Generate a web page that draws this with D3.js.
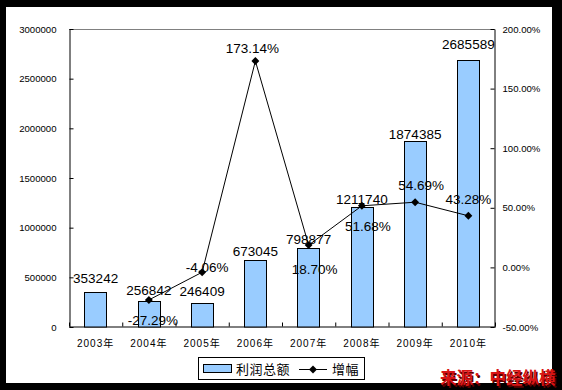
<!DOCTYPE html>
<html>
<head>
<meta charset="UTF-8">
<script src="https://d3js.org/d3.v7.min.js"></script>
<style>
  body { margin: 0; background: #000; }
  svg { display: block; }
</style>
</head>
<body>
<svg id="chart" width="562" height="390"></svg>
<script>
  // Data
  const years = [ "2003年", "2004年", "2005年", "2006年", "2007年", "2008年", "2009年", "2010年" ];
  const profit = [ 353242, 256842, 246409, 673045, 798877, 1211740, 1874385, 2685589 ];
  const growth = [ null, -27.29, -4.06, 173.14, 18.70, 51.68, 54.69, 43.28 ];
  const leftTicks = [ 0, 500000, 1000000, 1500000, 2000000, 2500000, 3000000 ];
  const rightTicks = [ -50, 0, 50, 100, 150, 200 ];

  // label nudges (layout only)
  const barLabelDy = [ -9, -6, -7, -4, -4, -3, -2, -11 ];
  const pctLabelDx = [ 0, 4, 5, -3, 6, 6, 6, 0 ];
  const pctLabelDy = [ 0, 25, 0, -8, 29, 25, -12, -12 ];

  const pLeft = 69, pRight = 495, pTop = 29, pBottom = 327;
  const svg = d3.select( "#chart" );

  // plain hyphen for negatives, like the original
  const loc = d3.formatLocale( { decimal: ".", thousands: ",", grouping: [ 3 ], currency: [ "", "" ], minus: "-" } );
  const pct = d => loc.format( ".2f" )( d ) + "%";

  // white card inside black frame
  svg.append( "rect" ).attr( "x", 6 ).attr( "y", 7 ).attr( "width", 546 ).attr( "height", 376 ).attr( "fill", "#fff" );

  const x = d3.scaleBand().domain( years ).range( [ pLeft, pRight ] ).paddingInner( 0.58 ).paddingOuter( 0.29 );
  const y = d3.scaleLinear().domain( [ 0, 3000000 ] ).range( [ pBottom, pTop ] );
  const y2 = d3.scaleLinear().domain( [ -50, 200 ] ).range( [ pBottom, pTop ] );
  const cx = d => x( d ) + x.bandwidth() / 2;

  // top border of plot area
  svg.append( "line" ).attr( "x1", pLeft ).attr( "x2", pRight ).attr( "y1", pTop + 0.5 ).attr( "y2", pTop + 0.5 )
    .attr( "stroke", "#808080" );

  // left axis
  const gl = svg.append( "g" ).attr( "transform", "translate(" + ( pLeft + 0.5 ) + ",0)" )
    .call( d3.axisLeft( y ).tickValues( leftTicks ).tickFormat( loc.format( "d" ) ).tickSizeInner( -4 ).tickSizeOuter( 0 ).tickPadding( 13 ) );
  // right axis
  const gr = svg.append( "g" ).attr( "transform", "translate(" + ( pRight - 0.5 ) + ",0)" )
    .call( d3.axisRight( y2 ).tickValues( rightTicks ).tickFormat( pct ).tickSizeInner( -4 ).tickSizeOuter( 0 ).tickPadding( 8 ) );
  [ gl, gr ].forEach( g => {
    g.selectAll( "text" ).attr( "font-family", "Liberation Sans, Arial, sans-serif" ).attr( "font-size", "9.6px" ).attr( "fill", "#000" );
    g.selectAll( "line, path" ).attr( "stroke", "#000" );
  } );

  // bottom axis ticks at category boundaries
  const xb = d3.scaleLinear().domain( [ 0, years.length ] ).range( [ pLeft, pRight ] );
  const gb = svg.append( "g" ).attr( "transform", "translate(0," + ( pBottom - 0.5 ) + ")" )
    .call( d3.axisBottom( xb ).tickValues( d3.range( 0, years.length + 1 ) ).tickFormat( "" ).tickSizeInner( -4 ).tickSizeOuter( 0 ) );
  gb.selectAll( "line, path" ).attr( "stroke", "#000" );

  // category labels
  svg.append( "g" ).selectAll( "text" ).data( years ).enter().append( "text" )
    .attr( "x", d => cx( d ) ).attr( "y", 347 )
    .attr( "text-anchor", "middle" )
    .attr( "font-family", "Liberation Sans, Noto Sans CJK SC, sans-serif" )
    .attr( "font-size", "10px" ).attr( "letter-spacing", "1px" )
    .text( d => d );

  // bars
  svg.append( "g" ).selectAll( "rect" ).data( profit ).enter().append( "rect" )
    .attr( "x", ( d, i ) => Math.round( x( years[ i ] ) ) + 0.5 )
    .attr( "y", d => Math.round( y( d ) ) + 0.5 )
    .attr( "width", Math.round( x.bandwidth() ) )
    .attr( "height", d => pBottom - Math.round( y( d ) ) - 0.5 )
    .attr( "fill", "#99CCFF" ).attr( "stroke", "#000" ).attr( "stroke-width", 1 );

  // bar labels
  svg.append( "g" ).selectAll( "text" ).data( profit ).enter().append( "text" )
    .attr( "x", ( d, i ) => cx( years[ i ] ) )
    .attr( "y", ( d, i ) => y( d ) + barLabelDy[ i ] )
    .attr( "text-anchor", "middle" )
    .attr( "font-family", "Liberation Sans, Arial, sans-serif" ).attr( "font-size", "13.5px" )
    .text( d => d );

  // growth line
  const pts = growth.map( ( g, i ) => ( { g: g, i: i } ) ).filter( p => p.g !== null );
  const line = d3.line().x( p => cx( years[ p.i ] ) ).y( p => y2( p.g ) );
  svg.append( "path" ).datum( pts ).attr( "d", line ).attr( "fill", "none" ).attr( "stroke", "#000" ).attr( "stroke-width", 1 );
  svg.append( "g" ).selectAll( "path" ).data( pts ).enter().append( "path" )
    .attr( "d", d3.symbol().type( d3.symbolDiamond2 ).size( 40 ) )
    .attr( "transform", p => "translate(" + cx( years[ p.i ] ) + "," + y2( p.g ) + ")" )
    .attr( "fill", "#000" );

  // growth labels
  svg.append( "g" ).selectAll( "text" ).data( pts ).enter().append( "text" )
    .attr( "x", p => cx( years[ p.i ] ) + pctLabelDx[ p.i ] )
    .attr( "y", p => y2( p.g ) + pctLabelDy[ p.i ] )
    .attr( "text-anchor", "middle" )
    .attr( "font-family", "Liberation Sans, Arial, sans-serif" ).attr( "font-size", "13.5px" )
    .text( p => pct( p.g ) );

  // legend
  const lg = svg.append( "g" );
  lg.append( "rect" ).attr( "x", 198.5 ).attr( "y", 357.5 ).attr( "width", 166 ).attr( "height", 22 )
    .attr( "fill", "#fff" ).attr( "stroke", "#000" );
  lg.append( "rect" ).attr( "x", 203.5 ).attr( "y", 364.5 ).attr( "width", 28 ).attr( "height", 8 )
    .attr( "fill", "#99CCFF" ).attr( "stroke", "#000" );
  lg.append( "text" ).attr( "x", 236 ).attr( "y", 374 )
    .attr( "font-family", "Noto Sans CJK SC, sans-serif" ).attr( "font-size", "13px" ).attr( "letter-spacing", "0.5px" ).text( "利润总额" );
  lg.append( "line" ).attr( "x1", 299 ).attr( "x2", 327 ).attr( "y1", 369.5 ).attr( "y2", 369.5 ).attr( "stroke", "#000" );
  lg.append( "path" ).attr( "d", d3.symbol().type( d3.symbolDiamond2 ).size( 40 ) )
    .attr( "transform", "translate(313,369.5)" ).attr( "fill", "#000" );
  lg.append( "text" ).attr( "x", 332 ).attr( "y", 374 )
    .attr( "font-family", "Noto Sans CJK SC, sans-serif" ).attr( "font-size", "13px" ).attr( "letter-spacing", "0.5px" ).text( "增幅" );

  // source note
  const src = "来源：中经纵横";
  svg.append( "text" ).attr( "x", 441.5 ).attr( "y", 385.5 )
    .attr( "font-family", "Noto Sans CJK SC, sans-serif" ).attr( "font-weight", "bold" ).attr( "font-size", "16.5px" )
    .attr( "fill", "#5a0000" ).text( src );
  svg.append( "text" ).attr( "x", 440 ).attr( "y", 384 )
    .attr( "font-family", "Noto Sans CJK SC, sans-serif" ).attr( "font-weight", "bold" ).attr( "font-size", "16.5px" )
    .attr( "fill", "#d81414" ).text( src );
</script>
</body>
</html>
